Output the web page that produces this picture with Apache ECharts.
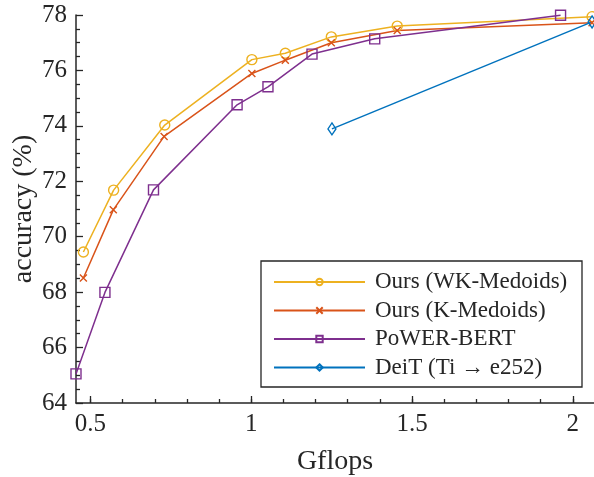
<!DOCTYPE html>
<html>
<head>
<meta charset="utf-8">
<script src="https://cdn.jsdelivr.net/npm/echarts@6/dist/echarts.min.js"></script>
<style>html,body{margin:0;padding:0;background:#fff;}#c{width:594px;height:477px;}</style>
</head>
<body>
<div id="c"></div>
<script>
var seriesNames = ['Ours (WK-Medoids)', 'Ours (K-Medoids)', 'PoWER-BERT', 'DeiT (Ti \u2192 e252)'];
var gflopsWK = [0.478, 0.572, 0.731, 1.002, 1.106, 1.249, 1.454, 2.06];
var accWK    = [69.45, 71.68, 74.03, 76.39, 76.62, 77.21, 77.60, 77.94];
var gflopsK  = [0.478, 0.571, 0.729, 1.002, 1.106, 1.249, 1.454, 2.06];
var accK     = [68.51, 70.97, 73.62, 75.89, 76.37, 77.00, 77.44, 77.72];
var gflopsP  = [0.455, 0.545, 0.696, 0.956, 1.052, 1.189, 1.384, 1.962];
var accP     = [65.05, 67.99, 71.69, 74.76, 75.41, 76.59, 77.14, 77.99];
var gflopsD  = [1.251, 2.06];
var accD     = [73.89, 77.75];
var xMajorTicks = [0.5, 1, 1.5, 2];
var xMinorTicks = [0.5, 0.6, 0.7, 0.8, 0.9, 1.0, 1.1, 1.2, 1.3, 1.4, 1.5, 1.6, 1.7, 1.8, 1.9, 2.0];

function pairs(xs, ys) { return xs.map(function (x, i) { return [x, ys[i]]; }); }

var colors = ['#EDB120', '#D95319', '#7E2F8E', '#0072BD'];
var symbols = ['circle', 'path://M0,0L10,10M0,10L10,0', 'rect', 'diamond'];
var symSizes = [10, 7, 10, [8, 12]];
var datas = [pairs(gflopsWK, accWK), pairs(gflopsK, accK), pairs(gflopsP, accP), pairs(gflopsD, accD)];
var font = '"Liberation Serif", "Times New Roman", serif';
var axisColor = '#262626';

var series = seriesNames.map(function (n, i) {
  return {
    name: n, type: 'line', data: datas[i], xAxisIndex: 0, yAxisIndex: 0,
    symbol: symbols[i], symbolSize: symSizes[i], showAllSymbol: true, clip: false,
    color: colors[i],
    lineStyle: { color: colors[i], width: 1.5 },
    itemStyle: { color: 'rgba(255,255,255,0)', borderColor: colors[i], borderWidth: 1.4 },
    emphasis: { disabled: true }, animation: false, z: 2
  };
});

var chart = echarts.init(document.getElementById('c'), null, { renderer: 'canvas' });
chart.setOption({
  animation: false,
  backgroundColor: '#fff',
  grid: { left: 76, top: 15, width: 518, height: 388, containLabel: false, outerBoundsMode: 'none' },
  xAxis: [{
    type: 'value', min: 0.455, max: 2.066, position: 'bottom',
    name: 'Gflops', nameLocation: 'middle', nameGap: 45, nameMoveOverlap: false,
    nameTextStyle: { fontFamily: font, fontSize: 28, color: axisColor },
    axisLine: { show: true, onZero: false, lineStyle: { color: axisColor, width: 1.5 } },
    axisTick: { show: true, inside: true, length: 7, customValues: xMajorTicks, lineStyle: { color: axisColor, width: 1.3 } },
    axisLabel: { customValues: xMajorTicks, fontFamily: font, fontSize: 25, color: axisColor, margin: 9,
      formatter: function (v) { return String(v); } },
    splitLine: { show: false }
  }, {
    type: 'value', min: 0.455, max: 2.066, position: 'bottom', gridIndex: 0,
    axisLine: { show: false, onZero: false },
    axisTick: { show: true, inside: true, length: 4, customValues: xMinorTicks, lineStyle: { color: axisColor, width: 1.3 } },
    axisLabel: { show: false },
    splitLine: { show: false }
  }],
  yAxis: [{
    type: 'value', min: 64, max: 78, interval: 2,
    name: 'accuracy (%)', nameLocation: 'middle', nameGap: 38, nameMoveOverlap: false,
    nameTextStyle: { fontFamily: font, fontSize: 28, color: axisColor },
    axisLine: { show: true, onZero: false, lineStyle: { color: axisColor, width: 1.5 } },
    axisTick: { show: true, inside: true, length: 7, lineStyle: { color: axisColor, width: 1.3 } },
    minorTick: { show: true, splitNumber: 4, length: 4, lineStyle: { color: axisColor, width: 1.3 } },
    axisLabel: { fontFamily: font, fontSize: 25, color: axisColor, margin: 9 },
    splitLine: { show: false }, minorSplitLine: { show: false }
  }],
  legend: {
    orient: 'vertical', left: 273, top: 268, padding: 0, itemGap: 0.5,
    itemWidth: 91, itemHeight: 8, z: 5,
    textStyle: { fontFamily: font, fontSize: 23, color: axisColor, lineHeight: 28, padding: [0, 0, 0, 5] },
    data: seriesNames
  },
  graphic: { elements: [{
    type: 'rect', z: 4, shape: { x: 261, y: 261, width: 321, height: 126 },
    style: { fill: '#fff', stroke: axisColor, lineWidth: 1.3 }
  }] },
  series: series
});
</script>
</body>
</html>
